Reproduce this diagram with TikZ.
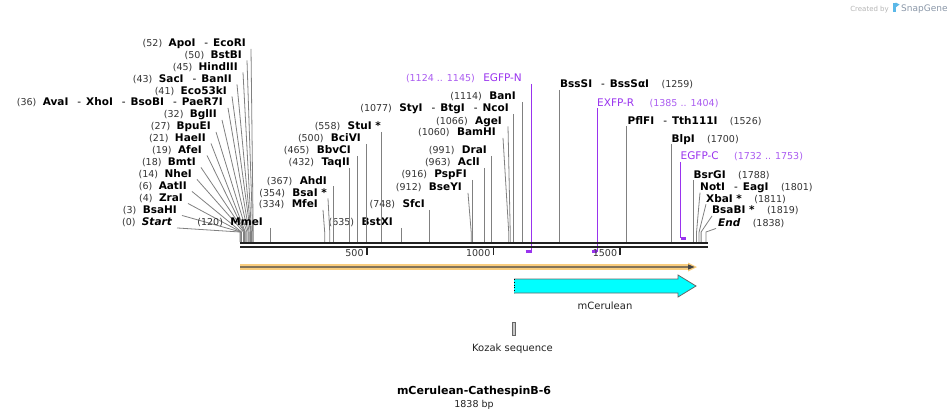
\documentclass[tikz,border=0pt]{standalone}
\usepackage{fontspec}
\setmainfont{DejaVu Sans}
\usepackage{tikz}
\usetikzlibrary{positioning}
\definecolor{cutline}{HTML}{808080}
\definecolor{posnum}{HTML}{333333}
\definecolor{primer}{HTML}{9933EE}
\definecolor{primerpos}{HTML}{AA5CF0}
\definecolor{backbone}{HTML}{222222}
\definecolor{orfband}{HTML}{F9CD7E}
\definecolor{orfline}{HTML}{444444}
\definecolor{featfill}{HTML}{00FFFF}
\definecolor{featedge}{HTML}{666666}
\definecolor{kozakfill}{HTML}{C8C8C8}
\definecolor{credit}{HTML}{B4B4B4}
\definecolor{brand}{HTML}{8A97A8}
\definecolor{brandlogo}{HTML}{5BB8E8}
\newcommand{\dsh}{\hspace{9pt}{\mdseries -}\hspace{5pt}}

\begin{document}
\begin{tikzpicture}[x=1pt, y=-1pt,
  every node/.style={inner sep=0pt, text height=7.5pt, text depth=0pt},
  enz/.style={font=\fontsize{10.5}{12}\selectfont\bfseries},
  endpt/.style={font=\fontsize{10.5}{12}\selectfont\bfseries\itshape},
  sitenum/.style={font=\fontsize{9.5}{11}\selectfont, text=posnum},
  prm/.style={font=\fontsize{10.5}{12}\selectfont, text=primer},
  prmpos/.style={font=\fontsize{9.5}{11}\selectfont, text=primerpos},
  feat/.style={font=\fontsize{10}{12}\selectfont, text=backbone},
  cut/.style={draw=cutline, line width=0.8pt},
  prmline/.style={draw=primer, line width=1.3pt},
  prmbar/.style={draw=primer, line width=2.4pt},
  bbone/.style={draw=backbone, line width=2.3pt},
  tickmark/.style={draw=backbone, line width=1.6pt}
]
  \useasboundingbox (0,0) rectangle (949,418);

  % cut sites on the top of the backbone
  \coordinate (bend) at (0,232);
  \coordinate (s0) at ({240+0.2535*0},242);
  \coordinate (s3) at ({240+0.2535*3},242);
  \coordinate (s4) at ({240+0.2535*4},242);
  \coordinate (s6) at ({240+0.2535*6},242);
  \coordinate (s14) at ({240+0.2535*14},242);
  \coordinate (s18) at ({240+0.2535*18},242);
  \coordinate (s19) at ({240+0.2535*19},242);
  \coordinate (s21) at ({240+0.2535*21},242);
  \coordinate (s27) at ({240+0.2535*27},242);
  \coordinate (s32) at ({240+0.2535*32},242);
  \coordinate (s36) at ({240+0.2535*36},242);
  \coordinate (s41) at ({240+0.2535*41},242);
  \coordinate (s43) at ({240+0.2535*43},242);
  \coordinate (s45) at ({240+0.2535*45},242);
  \coordinate (s50) at ({240+0.2535*50},242);
  \coordinate (s52) at ({240+0.2535*52},242);
  \coordinate (s120) at ({240+0.2535*120},242);
  \coordinate (s334) at ({240+0.2535*334},242);
  \coordinate (s354) at ({240+0.2535*354},242);
  \coordinate (s367) at ({240+0.2535*367},242);
  \coordinate (s432) at ({240+0.2535*432},242);
  \coordinate (s465) at ({240+0.2535*465},242);
  \coordinate (s500) at ({240+0.2535*500},242);
  \coordinate (s558) at ({240+0.2535*558},242);
  \coordinate (s635) at ({240+0.2535*635},242);
  \coordinate (s748) at ({240+0.2535*748},242);
  \coordinate (s912) at ({240+0.2535*912},242);
  \coordinate (s916) at ({240+0.2535*916},242);
  \coordinate (s963) at ({240+0.2535*963},242);
  \coordinate (s991) at ({240+0.2535*991},242);
  \coordinate (s1060) at ({240+0.2535*1060},242);
  \coordinate (s1066) at ({240+0.2535*1066},242);
  \coordinate (s1077) at ({240+0.2535*1077},242);
  \coordinate (s1114) at ({240+0.2535*1114},242);
  \coordinate (s1259) at ({240+0.2535*1259},242);
  \coordinate (s1526) at ({240+0.2535*1526},242);
  \coordinate (s1700) at ({240+0.2535*1700},242);
  \coordinate (s1788) at ({240+0.2535*1788},242);
  \coordinate (s1801) at ({240+0.2535*1801},242);
  \coordinate (s1811) at ({240+0.2535*1811},242);
  \coordinate (s1819) at ({240+0.2535*1819},242);
  \coordinate (s1838) at ({240+0.2535*1838},242);

  % left fan
  \node[enz, anchor=east] (apoi) at (246,43) {ApoI\dsh EcoRI};
  \node[sitenum, left=6pt of apoi] (apoi-n) {(52)};
  \node[enz, anchor=east] (bstbi) at (242,54.5) {BstBI};
  \node[sitenum, left=6pt of bstbi] (bstbi-n) {(50)};
  \node[enz, anchor=east] (hindiii) at (238,66.5) {HindIII};
  \node[sitenum, left=6pt of hindiii] (hindiii-n) {(45)};
  \node[enz, anchor=east] (saci) at (232,78.5) {SacI\dsh BanII};
  \node[sitenum, left=6pt of saci] (saci-n) {(43)};
  \node[enz, anchor=east] (eco53ki) at (227,90.5) {Eco53kI};
  \node[sitenum, left=6pt of eco53ki] (eco53ki-n) {(41)};
  \node[enz, anchor=east] (avai) at (223,102) {AvaI\dsh XhoI\dsh BsoBI\dsh PaeR7I};
  \node[sitenum, left=6pt of avai] (avai-n) {(36)};
  \node[enz, anchor=east] (bglii) at (217,114) {BglII};
  \node[sitenum, left=6pt of bglii] (bglii-n) {(32)};
  \node[enz, anchor=east] (bpuei) at (211,126) {BpuEI};
  \node[sitenum, left=6pt of bpuei] (bpuei-n) {(27)};
  \node[enz, anchor=east] (haeii) at (206,137.5) {HaeII};
  \node[sitenum, left=6pt of haeii] (haeii-n) {(21)};
  \node[enz, anchor=east] (afei) at (202,149.5) {AfeI};
  \node[sitenum, left=6pt of afei] (afei-n) {(19)};
  \node[enz, anchor=east] (bmti) at (196,161.5) {BmtI};
  \node[sitenum, left=6pt of bmti] (bmti-n) {(18)};
  \node[enz, anchor=east] (nhei) at (192,173.5) {NheI};
  \node[sitenum, left=6pt of nhei] (nhei-n) {(14)};
  \node[enz, anchor=east] (aatii) at (187,185.5) {AatII};
  \node[sitenum, left=6pt of aatii] (aatii-n) {(6)};
  \node[enz, anchor=east] (zrai) at (183,197.5) {ZraI};
  \node[sitenum, left=6pt of zrai] (zrai-n) {(4)};
  \node[enz, anchor=east] (bsahi) at (177,209.5) {BsaHI};
  \node[sitenum, left=6pt of bsahi] (bsahi-n) {(3)};
  \node[endpt, anchor=east] (seqstart) at (172,222) {Start};
  \node[sitenum, left=6pt of seqstart] (seqstart-n) {(0)};

  \draw[cut] ([xshift=5pt,yshift=-2pt]apoi.south east) -- (s52 |- bend) -- (s52);
  \draw[cut] ([xshift=5pt,yshift=-2pt]bstbi.south east) -- (s50 |- bend) -- (s50);
  \draw[cut] ([xshift=5pt,yshift=-2pt]hindiii.south east) -- (s45 |- bend) -- (s45);
  \draw[cut] ([xshift=5pt,yshift=-2pt]saci.south east) -- (s43 |- bend) -- (s43);
  \draw[cut] ([xshift=5pt,yshift=-2pt]eco53ki.south east) -- (s41 |- bend) -- (s41);
  \draw[cut] ([xshift=5pt,yshift=-2pt]avai.south east) -- (s36 |- bend) -- (s36);
  \draw[cut] ([xshift=5pt,yshift=-2pt]bglii.south east) -- (s32 |- bend) -- (s32);
  \draw[cut] ([xshift=5pt,yshift=-2pt]bpuei.south east) -- (s27 |- bend) -- (s27);
  \draw[cut] ([xshift=5pt,yshift=-2pt]haeii.south east) -- (s21 |- bend) -- (s21);
  \draw[cut] ([xshift=5pt,yshift=-2pt]afei.south east) -- (s19 |- bend) -- (s19);
  \draw[cut] ([xshift=5pt,yshift=-2pt]bmti.south east) -- (s18 |- bend) -- (s18);
  \draw[cut] ([xshift=5pt,yshift=-2pt]nhei.south east) -- (s14 |- bend) -- (s14);
  \draw[cut] ([xshift=5pt,yshift=-2pt]aatii.south east) -- (s6 |- bend) -- (s6);
  \draw[cut] ([xshift=5pt,yshift=-2pt]zrai.south east) -- (s4 |- bend) -- (s4);
  \draw[cut] ([xshift=5pt,yshift=-2pt]bsahi.south east) -- (s3 |- bend) -- (s3);
  \draw[cut] ([xshift=5pt,yshift=-2pt]seqstart.south east) -- (s0 |- bend) -- (s0);

  % middle, labels on the left of their line
  \node[enz, anchor=east] (mmei) at (263,222) {MmeI};
  \node[sitenum, left=7pt of mmei] (mmei-n) {(120)};
  \node[enz, anchor=east] (mfei) at (318,204) {MfeI};
  \node[sitenum, left=7pt of mfei] (mfei-n) {(334)};
  \node[enz, anchor=east] (bsai) at (327,192.5) {BsaI *};
  \node[sitenum, left=7pt of bsai] (bsai-n) {(354)};
  \node[enz, anchor=east] (ahdi) at (327,180.5) {AhdI};
  \node[sitenum, left=7pt of ahdi] (ahdi-n) {(367)};
  \node[enz, anchor=east] (taqii) at (350,162) {TaqII};
  \node[sitenum, left=7pt of taqii] (taqii-n) {(432)};
  \node[enz, anchor=east] (bbvci) at (351,150) {BbvCI};
  \node[sitenum, left=7pt of bbvci] (bbvci-n) {(465)};
  \node[enz, anchor=east] (bcivi) at (361,138) {BciVI};
  \node[sitenum, left=7pt of bcivi] (bcivi-n) {(500)};
  \node[enz, anchor=east] (stui) at (381,126) {StuI *};
  \node[sitenum, left=7pt of stui] (stui-n) {(558)};
  \node[enz, anchor=east] (bstxi) at (393,222) {BstXI};
  \node[sitenum, left=7pt of bstxi] (bstxi-n) {(635)};
  \node[enz, anchor=east] (sfci) at (425,204) {SfcI};
  \node[sitenum, left=7pt of sfci] (sfci-n) {(748)};
  \node[enz, anchor=east] (bseyi) at (462,187) {BseYI};
  \node[sitenum, left=7pt of bseyi] (bseyi-n) {(912)};
  \node[enz, anchor=east] (pspfi) at (467,174) {PspFI};
  \node[sitenum, left=7pt of pspfi] (pspfi-n) {(916)};
  \node[enz, anchor=east] (acli) at (480,162) {AclI};
  \node[sitenum, left=7pt of acli] (acli-n) {(963)};
  \node[enz, anchor=east] (drai) at (487,150) {DraI};
  \node[sitenum, left=7pt of drai] (drai-n) {(991)};
  \node[enz, anchor=east] (bamhi) at (496,132) {BamHI};
  \node[sitenum, left=7pt of bamhi] (bamhi-n) {(1060)};
  \node[enz, anchor=east] (agei) at (502,120.5) {AgeI};
  \node[sitenum, left=7pt of agei] (agei-n) {(1066)};
  \node[enz, anchor=east] (styi) at (509,108) {StyI\dsh BtgI\dsh NcoI};
  \node[sitenum, left=7pt of styi] (styi-n) {(1077)};
  \node[enz, anchor=east] (bani) at (516,96) {BanI};
  \node[sitenum, left=7pt of bani] (bani-n) {(1114)};

  \draw[cut] ([yshift=-2pt]s120 |- mmei.south) -- (s120);
  \draw[cut] ([xshift=5pt,yshift=-2pt]mfei.south east) -- (s334 |- bend) -- (s334);
  \draw[cut] ([xshift=1pt,yshift=-2pt]bsai.south east) -- (s354 |- bend) -- (s354);
  \draw[cut] ([yshift=-2pt]s367 |- ahdi.south) -- (s367);
  \draw[cut] ([yshift=-2pt]s432 |- taqii.south) -- (s432);
  \draw[cut] ([yshift=-2pt]s465 |- bbvci.south) -- (s465);
  \draw[cut] ([yshift=-2pt]s500 |- bcivi.south) -- (s500);
  \draw[cut] ([yshift=-2pt]s558 |- stui.south) -- (s558);
  \draw[cut] ([yshift=-2pt]s635 |- bstxi.south) -- (s635);
  \draw[cut] ([yshift=-2pt]s748 |- sfci.south) -- (s748);
  \draw[cut] ([xshift=6pt,yshift=-2pt]bseyi.south east) -- (s912 |- bend) -- (s912);
  \draw[cut] ([yshift=-2pt]s916 |- pspfi.south) -- (s916);
  \draw[cut] ([yshift=-2pt]s963 |- acli.south) -- (s963);
  \draw[cut] ([yshift=-2pt]s991 |- drai.south) -- (s991);
  \draw[cut] ([xshift=7pt,yshift=-2pt]bamhi.south east) -- (s1060 |- bend) -- (s1060);
  \draw[cut] ([xshift=6pt,yshift=-2pt]agei.south east) -- (s1066 |- bend) -- (s1066);
  \draw[cut] ([yshift=-2pt]s1077 |- styi.south) -- (s1077);
  \draw[cut] ([yshift=-2pt]s1114 |- bani.south) -- (s1114);

  % right, labels on the right of their line
  \node[enz, anchor=west] (bsssi) at (560,84) {BssSI\dsh BssSαI};
  \node[sitenum, right=12pt of bsssi] (bsssi-n) {(1259)};
  \node[enz, anchor=west] (pflfi) at (627.5,120.5) {PflFI\dsh Tth111I};
  \node[sitenum, right=12pt of pflfi] (pflfi-n) {(1526)};
  \node[enz, anchor=west] (blpi) at (671.5,138.3) {BlpI};
  \node[sitenum, right=12pt of blpi] (blpi-n) {(1700)};
  \node[enz, anchor=west] (bsrgi) at (693.5,174.3) {BsrGI};
  \node[sitenum, right=12pt of bsrgi] (bsrgi-n) {(1788)};
  \node[enz, anchor=west] (noti) at (700,186.7) {NotI\dsh EagI};
  \node[sitenum, right=12pt of noti] (noti-n) {(1801)};
  \node[enz, anchor=west] (xbai) at (706,198.3) {XbaI *};
  \node[sitenum, right=12pt of xbai] (xbai-n) {(1811)};
  \node[enz, anchor=west] (bsabi) at (712,210) {BsaBI *};
  \node[sitenum, right=12pt of bsabi] (bsabi-n) {(1819)};
  \node[endpt, anchor=west] (seqend) at (718,222.5) {End};
  \node[sitenum, right=12pt of seqend] (seqend-n) {(1838)};

  \draw[cut] ([yshift=-2pt]s1259 |- bsssi.south) -- (s1259);
  \draw[cut] ([yshift=-2pt]s1526 |- pflfi.south) -- (s1526);
  \draw[cut] ([yshift=-2pt]s1700 |- blpi.south) -- (s1700);
  \draw[cut] ([yshift=-2pt]s1788 |- bsrgi.south) -- (s1788);
  \draw[cut] ([yshift=-2pt]noti.south west) -- (s1801 |- bend) -- (s1801);
  \draw[cut] ([yshift=-2pt]xbai.south west) -- (s1811 |- bend) -- (s1811);
  \draw[cut] ([yshift=-2pt]bsabi.south west) -- (s1819 |- bend) -- (s1819);
  \draw[cut] ([xshift=-2pt,yshift=-2pt]seqend.south west) -- (s1838 |- bend) -- (s1838);

  % primers
  \node[prm, anchor=east] (egfpn) at (522,78) {EGFP-N};
  \node[prmpos, left=8pt of egfpn] (egfpn-n) {(1124 .. 1145)};
  \node[prm, anchor=west] (exfpr) at (597,102.5) {EXFP-R};
  \node[prmpos, right=15pt of exfpr] (exfpr-n) {(1385 .. 1404)};
  \node[prm, anchor=west] (egfpc) at (680.5,156) {EGFP-C};
  \node[prmpos, right=15pt of egfpc] (egfpc-n) {(1732 .. 1753)};
  \coordinate (egfpn-a) at (525.5,251.5);
  \coordinate (egfpn-b) at (531.5,251.5);
  \coordinate (exfpr-a) at (592,251.5);
  \coordinate (exfpr-b) at (597.3,251.5);
  \coordinate (egfpc-a) at (680.7,238.3);
  \coordinate (egfpc-b) at (685.5,238.3);
  \draw[prmline] ([yshift=-2pt]egfpn-b |- egfpn.south) -- (egfpn-b);
  \draw[prmbar] (egfpn-a) -- (egfpn-b);
  \draw[prmline] ([yshift=-2pt]exfpr-b |- exfpr.south) -- (exfpr-b);
  \draw[prmbar] (exfpr-a) -- (exfpr-b);
  \draw[prmline] ([yshift=-2pt]egfpc-a |- egfpc.south) -- (egfpc-a);
  \draw[prmbar] (egfpc-a) -- (egfpc-b);

  % backbone and scale
  \draw[bbone] (240,243) -- (708,243);
  \draw[bbone] (240,247.2) -- (708,247.2);
  \coordinate (t500) at ({240+0.2535*500},248);
  \coordinate (t1000) at ({240+0.2535*1000},248);
  \coordinate (t1500) at ({240+0.2535*1500},248);
  \draw[tickmark] (t500) -- ++(0,6.5);
  \draw[tickmark] (t1000) -- ++(0,6.5);
  \draw[tickmark] (t1500) -- ++(0,6.5);
  \node[sitenum, anchor=east] (t500-l) at ([xshift=-3pt,yshift=-5pt]t500) {500};
  \node[sitenum, anchor=east] (t1000-l) at ([xshift=-3pt,yshift=-5pt]t1000) {1000};
  \node[sitenum, anchor=east] (t1500-l) at ([xshift=-3pt,yshift=-5pt]t1500) {1500};

  % features
  \fill[orfband] (240,264.2) -- (688,264.2) -- (688,262.5) -- (697,267) -- (688,271.5)
    -- (688,269.8) -- (240,269.8) -- cycle;
  \fill[orfline] (240,266.4) -- (688,266.4) -- (688,264.3) -- (694.5,267) -- (688,269.7)
    -- (688,267.6) -- (240,267.6) -- cycle;
  \filldraw[fill=featfill, draw=featedge, line width=0.8pt] (514,279) -- (678,279) -- (678,275)
    -- (696,286) -- (678,297) -- (678,293) -- (514,293);
  \draw[black, line width=0.8pt, dotted] (514,279) -- (514,293);
  \node[feat] (cer-l) at (605,306) {mCerulean};
  \filldraw[fill=kozakfill, draw=featedge, line width=0.7pt] (512.3,322.5) rectangle (515.7,335.5);
  \node[feat] (kozak-l) at (512.5,348) {Kozak sequence};

  % title
  \node[font=\fontsize{11}{13}\selectfont\bfseries] (title) at (474,390.5) {mCerulean-CathespinB-6};
  \node[font=\fontsize{9.5}{11}\selectfont, text=backbone] (size) at (474,403.5) {1838 bp};

  % credit
  \node[font=\fontsize{7}{8}\selectfont, text=credit, anchor=east] (credit-l) at (889,7.5) {Created by};
  \fill[brandlogo] (893,2.5) rectangle (895.5,12);
  \fill[brandlogo] (895.5,2.5) -- (899.5,4.5) -- (895.5,7.5) -- cycle;
  \node[font=\fontsize{9}{10}\selectfont, text=brand, anchor=west] (brand-l) at (901,7.5) {SnapGene};
\end{tikzpicture}
\end{document}
